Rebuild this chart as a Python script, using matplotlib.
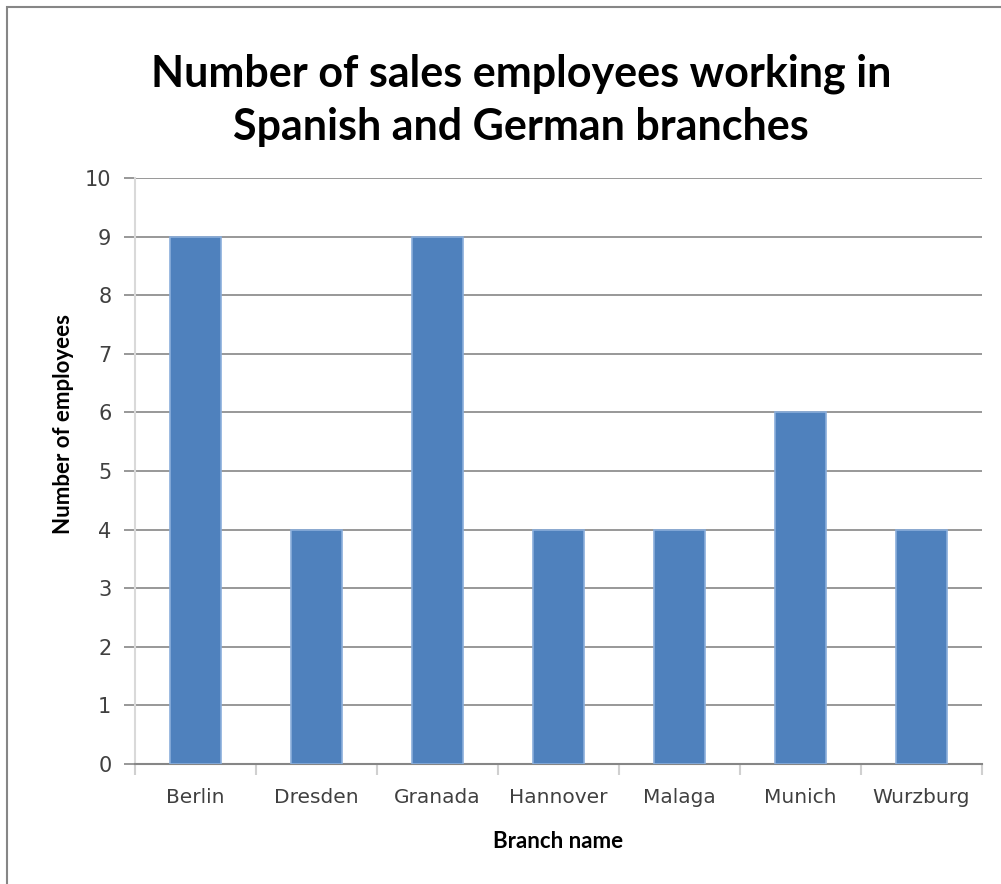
import matplotlib.pyplot as plt
from matplotlib.patches import Rectangle
import numpy as np

# Data
branches = ["Berlin", "Dresden", "Granada", "Hannover", "Malaga", "Munich", "Wurzburg"]
employees = [9, 4, 9, 4, 4, 6, 4]

W, H = 1001, 884
fig = plt.figure(figsize=(W / 100, H / 100), dpi=100)

# outer chart border
fig.patches.append(Rectangle((7 / W, -0.01), 1.0, 1 - 7 / H + 0.01, transform=fig.transFigure,
                             fill=False, edgecolor='#868686', linewidth=1.5))

left, right = 135 / W, 982 / W
bottom, top = 1 - 764 / H, 1 - 178 / H
ax = fig.add_axes([left, bottom, right - left, top - bottom])

x = np.arange(len(branches))
ax.bar(x, employees, width=0.42, color='#4F81BD', edgecolor='#8AAEDB', linewidth=1.2, zorder=3)

ax.set_xlim(-0.5, len(branches) - 0.5)
ax.set_ylim(0, 10)
ax.set_yticks(range(0, 11))
ax.set_xticks(x)
ax.set_xticklabels(branches)
ax.set_xticks(np.arange(-0.5, len(branches)), minor=True)

ax.yaxis.grid(True, color='#868686', linewidth=1.2, zorder=0)
for s in ['top', 'right']:
    ax.spines[s].set_visible(False)
ax.spines['left'].set_color('#d9d9d9')
ax.spines['left'].set_linewidth(1.5)
ax.spines['bottom'].set_color('#868686')
ax.spines['bottom'].set_linewidth(1.5)

ax.tick_params(axis='y', length=8, color='#868686', width=1.2, labelsize=15,
               labelcolor='#404040', pad=9)
ax.tick_params(axis='x', which='major', length=0, labelsize=14.5, labelcolor='#404040', pad=17)
ax.tick_params(axis='x', which='minor', length=8, color='#d0d0d0', width=1.5)
for lab in ax.get_xticklabels() + ax.get_yticklabels():
    lab.set_fontfamily('DejaVu Sans')

fig.text(558 / W, 1 - 842 / H, "Branch name", ha='center', va='center',
         fontsize=16, fontweight='bold', family='Lato')
fig.text(64 / W, 1 - 424 / H, "Number of employees", ha='center', va='center', rotation=90,
         fontsize=16, fontweight='bold', family='Lato')

fig.text(521 / W, 1 - 100 / H, "Number of sales employees working in\nSpanish and German branches",
         ha='center', va='center', fontsize=31, fontweight='bold', family='Lato', linespacing=1.38)

fig.savefig("out.png", dpi=100)
